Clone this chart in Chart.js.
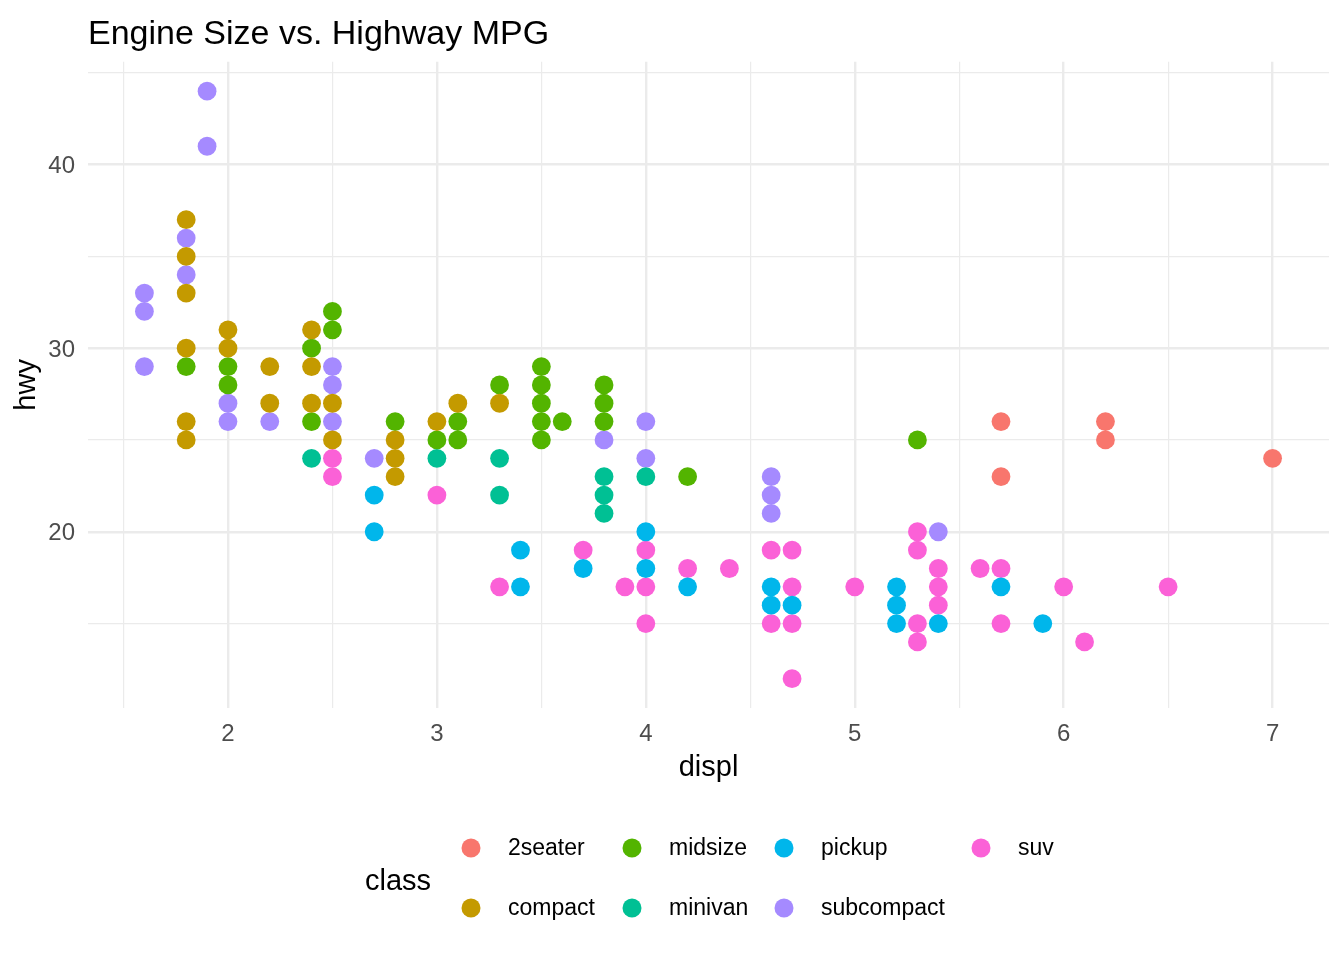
<!DOCTYPE html>
<html>
<head>
<meta charset="utf-8">
<script src="https://cdn.jsdelivr.net/npm/chart.js@4.4.1/dist/chart.umd.min.js"></script>
<style>
  html, body { margin: 0; padding: 0; background: #fff; }
  #wrap { position: relative; width: 1344px; height: 960px; font-family: 'Liberation Sans', Arial, sans-serif; }
  #c { position: absolute; left: 0; top: 0; }
  .lg { position: absolute; transform: translateY(-50%); white-space: nowrap; color: #000; line-height: 1.2; }
  .key { position: absolute; width: 19px; height: 19px; border-radius: 50%; transform: translate(-50%, -50%); }
</style>
</head>
<body>
<div id="wrap">
  <canvas id="c" width="1344" height="960" style="width:1344px;height:960px"></canvas>
  <div id="legend"></div>
</div>
<script>
/* mpg: displ vs hwy, coloured by class */

const classes = ['2seater', 'compact', 'midsize', 'minivan', 'pickup', 'subcompact', 'suv'];
const classColors = ['#F8766D', '#C49A00', '#53B400', '#00C094', '#00B6EB', '#A58AFF', '#FB61D7'];

const twoseaterDispl = [5.7, 5.7, 6.2, 6.2, 7.0];
const twoseaterHwy   = [26, 23, 26, 25, 24];

const compactDispl = [1.8, 1.8, 1.8, 1.8, 1.8, 1.8, 2.0, 2.0, 2.2, 2.2, 2.4, 2.4, 2.4, 2.5, 2.5, 2.8, 2.8, 2.8, 3.0, 3.1, 3.3];
const compactHwy   = [37, 35, 33, 30, 26, 25, 31, 30, 29, 27, 31, 29, 27, 27, 25, 25, 24, 23, 26, 27, 27];

const midsizeDispl = [1.8, 2.0, 2.0, 2.4, 2.4, 2.5, 2.5, 2.8, 3.0, 3.1, 3.1, 3.3, 3.5, 3.5, 3.5, 3.5, 3.5, 3.6, 3.8, 3.8, 3.8, 4.2, 5.3];
const midsizeHwy   = [29, 29, 28, 30, 26, 32, 31, 26, 25, 26, 25, 28, 29, 28, 27, 26, 25, 26, 28, 27, 26, 23, 25];

const minivanDispl = [2.4, 3.0, 3.3, 3.3, 3.8, 3.8, 3.8, 4.0];
const minivanHwy   = [24, 24, 24, 22, 23, 22, 21, 23];

const pickupDispl = [2.7, 2.7, 3.4, 3.4, 3.7, 4.0, 4.0, 4.2, 4.6, 4.6, 4.7, 5.2, 5.2, 5.2, 5.4, 5.7, 5.9];
const pickupHwy   = [22, 20, 19, 17, 18, 20, 18, 17, 17, 16, 16, 17, 16, 15, 15, 17, 15];

const subcompactDispl = [1.6, 1.6, 1.6, 1.8, 1.8, 1.9, 1.9, 2.0, 2.0, 2.2, 2.5, 2.5, 2.5, 2.7, 3.8, 4.0, 4.0, 4.6, 4.6, 4.6, 5.4];
const subcompactHwy   = [33, 32, 29, 36, 34, 44, 41, 27, 26, 26, 29, 28, 26, 24, 25, 26, 24, 23, 22, 21, 20];

const suvDispl = [2.5, 2.5, 3.0, 3.3, 3.7, 3.9, 4.0, 4.0, 4.0, 4.2, 4.4, 4.6, 4.6, 4.7, 4.7, 4.7, 4.7, 5.0, 5.3, 5.3, 5.3, 5.3, 5.4, 5.4, 5.4, 5.6, 5.7, 5.7, 6.0, 6.1, 6.5];
const suvHwy   = [24, 23, 22, 17, 19, 17, 19, 17, 15, 18, 18, 19, 15, 19, 17, 15, 12, 17, 20, 19, 15, 14, 18, 17, 16, 18, 18, 15, 17, 14, 17];

const classDispl = [twoseaterDispl, compactDispl, midsizeDispl, minivanDispl, pickupDispl, subcompactDispl, suvDispl];
const classHwy   = [twoseaterHwy, compactHwy, midsizeHwy, minivanHwy, pickupHwy, subcompactHwy, suvHwy];

// axis breaks
const xTicks = [2, 3, 4, 5, 6, 7];
const xMinorTicks = [1.5, 2.5, 3.5, 4.5, 5.5, 6.5];
const yTicks = [20, 30, 40];
const yMinorTicks = [15, 25, 35, 45];

const FONT = "'Liberation Sans', Arial, sans-serif";
const GRID = '#EBEBEB';

const datasets = classes.map((name, i) => ({
  label: name,
  data: classDispl[i].map((d, j) => ({ x: d, y: classHwy[i][j] })),
  backgroundColor: classColors[i],
  borderWidth: 0,
  pointRadius: 9.4,
  pointHoverRadius: 9.4
}));

function allTicks(major, minor) {
  return major.concat(minor).sort((a, b) => a - b).map(v => ({ value: v }));
}

new Chart(document.getElementById('c').getContext('2d'), {
  type: 'scatter',
  data: { datasets },
  options: {
    responsive: false,
    animation: false,
    devicePixelRatio: 1,
    layout: { padding: { left: 0, right: 15, top: 0, bottom: 172 } },
    plugins: {
      legend: { display: false },
      tooltip: { enabled: false },
      title: {
        display: true,
        text: 'Engine Size vs. Highway MPG',
        align: 'start',
        fullSize: false,
        color: '#000',
        font: { family: FONT, size: 34, weight: 'normal' },
        padding: { top: 14, bottom: 7 }
      }
    },
    scales: {
      x: {
        type: 'linear',
        min: 1.33, max: 7.27,
        afterBuildTicks: s => { s.ticks = allTicks(xTicks, xMinorTicks); },
        afterFit: s => { s.height = 80; },
        border: { display: false },
        grid: {
          color: GRID,
          drawTicks: false,
          lineWidth: ctx => xTicks.includes(ctx.tick && ctx.tick.value) ? 2.4 : 1.2
        },
        ticks: {
          autoSkip: false, maxRotation: 0, padding: 12,
          color: '#4D4D4D',
          font: { family: FONT, size: 24 },
          callback: v => xTicks.includes(v) ? String(v) : ''
        },
        title: {
          display: true, text: 'displ', color: '#000',
          font: { family: FONT, size: 29 },
          padding: { top: 0, bottom: 3 }
        }
      },
      y: {
        type: 'linear',
        min: 10.4, max: 45.6,
        afterBuildTicks: s => { s.ticks = allTicks(yTicks, yMinorTicks); },
        afterFit: s => { s.width = 88; },
        border: { display: false },
        grid: {
          color: GRID,
          drawTicks: false,
          lineWidth: ctx => yTicks.includes(ctx.tick && ctx.tick.value) ? 2.4 : 1.2
        },
        ticks: {
          autoSkip: false, padding: 13, labelOffset: 2,
          color: '#4D4D4D',
          font: { family: FONT, size: 24 },
          callback: v => yTicks.includes(v) ? String(v) : ''
        },
        title: {
          display: true, text: 'hwy', color: '#000',
          font: { family: FONT, size: 29 },
          padding: { top: 10, bottom: 0 }
        }
      }
    }
  }
});

/* legend: "class" title on the left, keys filled column by column in 2 rows */
const legendCols = [471, 632, 784, 981];
const legendRows = [848, 908];
const lg = document.getElementById('legend');
const ttl = document.createElement('div');
ttl.className = 'lg';
ttl.style.cssText = 'left:365px;top:880px;font-size:29px;';
ttl.textContent = 'class';
lg.appendChild(ttl);
classes.forEach((name, i) => {
  const cx = legendCols[Math.floor(i / 2)];
  const cy = legendRows[i % 2];
  const k = document.createElement('div');
  k.className = 'key';
  k.style.cssText = `left:${cx}px;top:${cy}px;background:${classColors[i]};`;
  lg.appendChild(k);
  const t = document.createElement('div');
  t.className = 'lg';
  t.style.cssText = `left:${cx + 37}px;top:${cy}px;font-size:23px;`;
  t.textContent = name;
  lg.appendChild(t);
});
</script>
</body>
</html>
